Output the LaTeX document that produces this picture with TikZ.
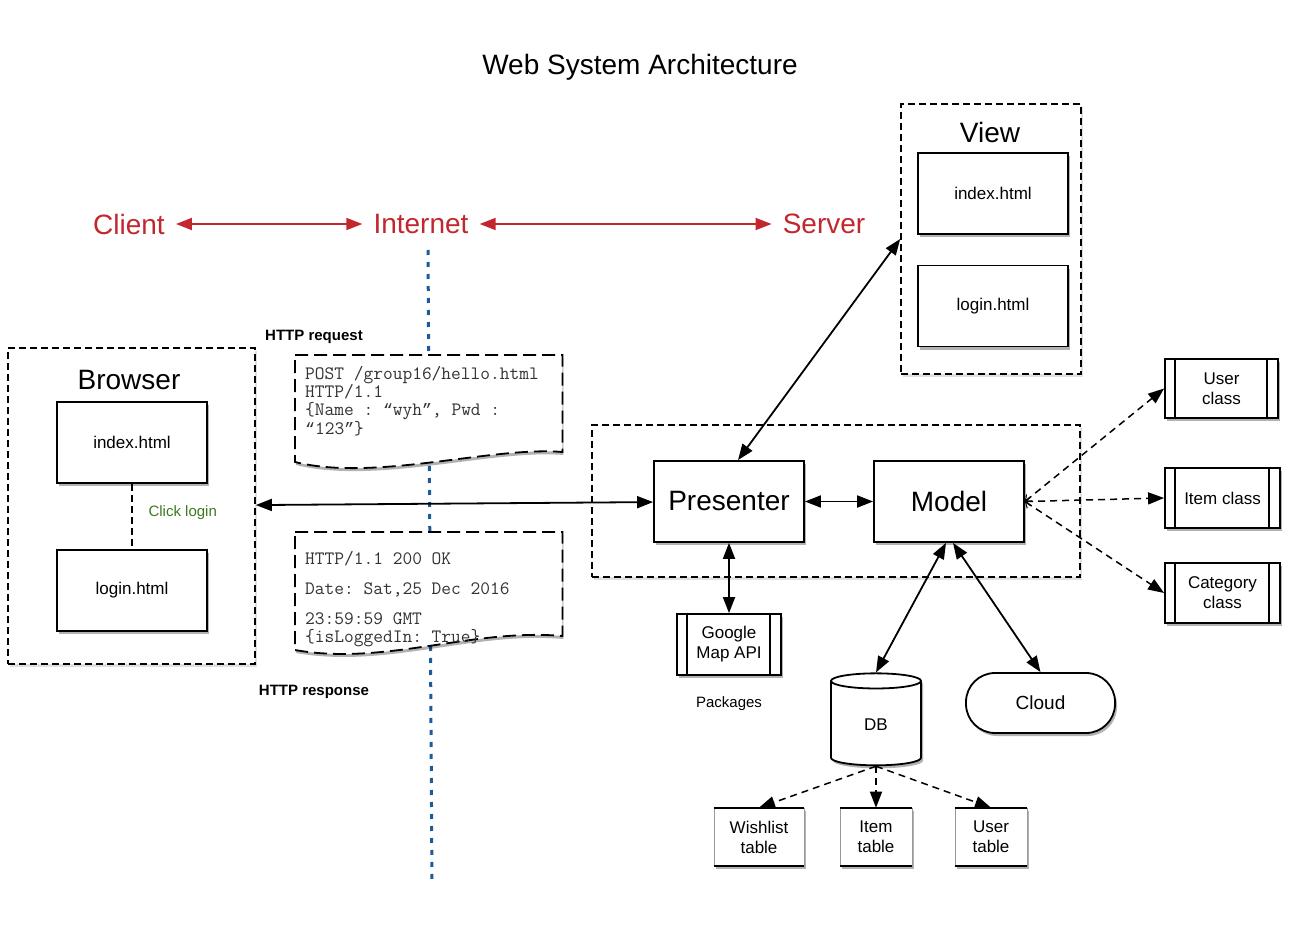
\documentclass[tikz,border=0pt]{standalone}
\usepackage{fontspec}
\setmainfont{Liberation Sans}
\newfontfamily\quotemono{Liberation Mono}
\usetikzlibrary{arrows.meta,shapes.geometric,shadows,backgrounds}

\definecolor{netred}{HTML}{C1272D}
\definecolor{netblue}{HTML}{1D5B98}
\definecolor{clickgreen}{HTML}{3B7B1F}
\newcommand{\fsz}[2]{\fontsize{#1}{#2}\selectfont}
% curly quotes taken from a mono font that has them
\newcommand{\qopen}{{\quotemono\fsz{16.5}{18.3}“}}
\newcommand{\qclose}{{\quotemono\fsz{16.5}{18.3}”}}

\tikzset{
  boxshadow/.style={drop shadow={shadow xshift=2pt, shadow yshift=-3pt, opacity=0.3, fill=black}},
  pagebox/.style={draw, fill=white, line width=1.8pt, minimum width=150pt, minimum height=81pt,
    align=center, font=\fsz{17}{20}, boxshadow},
  mvpbox/.style={pagebox, font=\fsz{28}{32}},
  groupbox/.style={draw, fill=white, line width=1.6pt, dash pattern=on 7pt off 4pt,
    drop shadow={shadow xshift=2pt, shadow yshift=-3pt, opacity=0.12, fill=black}},
  classbox/.style={pagebox, minimum width=115pt, minimum height=60pt,
    path picture={\draw[line width=1.8pt]
      ([xshift=10pt]path picture bounding box.north west) -- ([xshift=10pt]path picture bounding box.south west)
      ([xshift=-11pt]path picture bounding box.north east) -- ([xshift=-11pt]path picture bounding box.south east);}},
  tablebox/.style={draw=black!40, line width=0.6pt, fill=white, minimum width=72pt, minimum height=58pt,
    align=center, font=\fsz{17}{20}, boxshadow},
  netlabel/.style={text=netred, font=\fsz{28}{32}, inner xsep=11pt},
  smalllabel/.style={font=\fsz{15}{18}},
  doctext/.style={anchor=north west, align=flush left, text width=247pt, inner xsep=10pt,
    font=\ttfamily\fsz{18.9}{18.3}\frenchspacing, text=black!80},
  docline/.style={fill=white, line width=1.8pt, dash pattern=on 13pt off 6pt,
    drop shadow={shadow xshift=1pt, shadow yshift=-3pt, opacity=0.3, fill=black}},
  netline/.style={netblue, line width=3pt, dash pattern=on 5pt off 7pt},
  link/.style={line width=1.8pt, {Triangle[length=16pt,width=12pt]}-{Triangle[length=16pt,width=12pt]}},
  redlink/.style={link, draw=netred, fill=netred},
  dashlink/.style={line width=1.5pt, dash pattern=on 7pt off 5pt, -{Triangle[length=16pt,width=12pt]}},
}

\begin{document}
\begin{tikzpicture}[x=1pt,y=-1pt]
\useasboundingbox (0,0) rectangle (1304,931);

\node[font=\fsz{28}{32}] (title) at (640,67) {Web System Architecture};

% client / internet / server line
\node[netlabel] (client) at (129,224) {Client};
\node[netlabel] (inet) at (421,224) {Internet};
\node[netlabel] (server) at (824,224) {Server};
\draw[redlink] (client) -- (inet);
\draw[redlink] (inet) -- (server);

% browser side
\node[groupbox, minimum width=247pt, minimum height=316pt] (browser) at (131.5,506) {};
\node[font=\fsz{28}{32}] (browsertitle) at (129,380) {Browser};
\node[pagebox] (bindex) at (132,442.5) {index.html};
\node[pagebox] (blogin) at (132,590.5) {login.html};
\draw[line width=1.6pt, dash pattern=on 7pt off 4pt] (bindex) -- (blogin);
\node[smalllabel, text=clickgreen, anchor=west] (click) at (145,513) {Click login};

% http messages
\coordinate (nettop) at (428,250);
\coordinate (netbot) at (432,885);
\node[smalllabel, font=\bfseries\fsz{15}{18}] (reqlabel) at (314,337) {HTTP request};
\node[doctext, inner ysep=11pt] (req) at (295,355) {POST /group16/hello.html\\
HTTP/1.1\\
\{Name : \qopen wyh\qclose, Pwd :\\
\qopen 123\qclose\}};
\node[doctext, inner ysep=19pt] (resp) at (295,532) {HTTP/1.1 200 OK\\[11.7pt]
Date: Sat,25 Dec 2016\\[11.7pt]
23:59:59 GMT\\
\{isLoggedIn: True\}};
\node[smalllabel, font=\bfseries\fsz{15}{18}] (resplabel) at (314,692) {HTTP response};
\begin{pgfonlayer}{background}
\draw[netline] (nettop) -- (netbot);
\draw[docline] (req.north west) -- (req.north east) -- ([yshift=-97pt]req.north east)
  .. controls +(-70,-6) and +(80,20) .. ([yshift=-107pt]req.north west) -- cycle;
\draw[docline] (resp.north west) -- (resp.north east) -- ([yshift=-104pt]resp.north east)
  .. controls +(-90,-8) and +(90,16) .. ([yshift=-118pt]resp.north west) -- cycle;
\end{pgfonlayer}

% server side
\node[groupbox, minimum width=180pt, minimum height=270pt] (viewgrp) at (991,239) {};
\node[font=\fsz{28}{32}] (viewtitle) at (990,132) {View};
\node[pagebox] (vindex) at (993,193.5) {index.html};
\node[pagebox] (vlogin) at (993,306) {login.html};
\node[groupbox, minimum width=488pt, minimum height=152pt] (srvgrp) at (836,501) {};
\node[mvpbox] (pres) at (729,501.5) {Presenter};
\node[mvpbox] (model) at (949,501.5) {Model};

\node[classbox, minimum width=104pt, minimum height=61pt] (gmap) at (729,644.5) {Google\\Map API};
\node[smalllabel] (pkg) at (729,704) {Packages};

\node[classbox, minimum width=113pt, minimum height=59pt] (userc) at (1221.5,388.5) {User\\class};
\node[classbox] (itemc) at (1222.5,498) {Item class};
\node[classbox] (catc) at (1222.5,593) {Category\\class};

\node[cylinder, shape border rotate=90, aspect=0.5, draw, fill=white, line width=1.8pt,
  minimum width=90pt, minimum height=92pt, font=\fsz{17}{20}, boxshadow] (db) at (876,725) {DB};
\node[draw, fill=white, line width=1.8pt, rounded corners=29pt, minimum width=149pt,
  minimum height=60pt, font=\fsz{19}{22}, boxshadow] (cloud) at (1040.5,703) {Cloud};

\node[tablebox, minimum width=90pt] (wisht) at (759,837) {Wishlist\\table};
\node[tablebox] (itemt) at (876,837) {Item\\table};
\node[tablebox] (usert) at (991,837) {User\\table};
\foreach \t in {wisht,itemt,usert}
  \draw[line width=2pt] (\t.north west) -- (\t.north east) (\t.south west) -- (\t.south east);

% connectors
\draw[link] (browser) -- (pres);
\draw[link] ([xshift=9pt]pres.north) -- (viewgrp.west);
\draw[link] (pres) -- (model);
\draw[link] (pres) -- (gmap);
\draw[link] ([xshift=-3pt]model.south) -- (db.north);
\draw[link] ([xshift=4pt]model.south) -- (cloud.north);
\foreach \c in {userc,itemc,catc}
  \draw[dashlink, {Straight Barb[length=5pt,width=9pt,line width=1pt]}-{Triangle[length=16pt,width=12pt]}]
    (model.east) -- (\c.west);
\foreach \t in {wisht,itemt,usert}
  \draw[dashlink] (db.south) -- (\t.north);
\end{tikzpicture}
\end{document}
